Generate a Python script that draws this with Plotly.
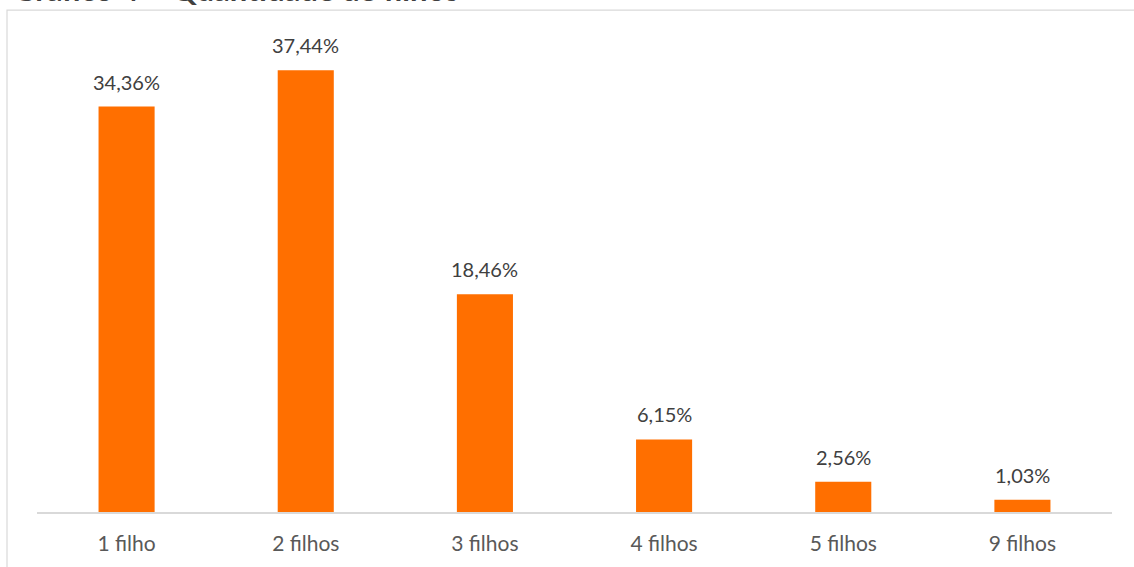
import plotly.graph_objects as go

categories = ["1 filho", "2 filhos", "3 filhos", "4 filhos", "5 filhos", "9 filhos"]
values = [34.36, 37.44, 18.46, 6.15, 2.56, 1.03]
title_text = "Gráfico 4 – Quantidade de filhos"

bar_color = "#FF6F00"
label_color = "#404040"
tick_color = "#595959"
line_color = "#D9D9D9"
font_family = "Lato, Carlito, Calibri, sans-serif"

fig = go.Figure()
fig.add_trace(go.Bar(
    x=categories, y=values,
    marker=dict(color=bar_color, line=dict(width=0)),
    width=0.313,
    hoverinfo="skip",
))

for c, v in zip(categories, values):
    fig.add_annotation(
        x=c, y=v, xref="x", yref="y",
        text=f"{v:.2f}".replace(".", ",") + "%",
        showarrow=False, yanchor="bottom", yshift=11,
        font=dict(family=font_family, size=20, color=label_color),
    )

# chart-area border (cropped)
fig.add_shape(type="rect", xref="paper", yref="paper",
              x0=-0.0279, x1=1.03, y0=-0.2, y1=1.0633,
              line=dict(color=line_color, width=1.2), fillcolor="rgba(0,0,0,0)",
              layer="below")

# partially visible title (cropped at top of image)
fig.add_annotation(
    xref="paper", yref="paper", x=-0.024, y=1.0632, xanchor="left", yanchor="bottom",
    text=f"<b>{title_text}</b>", showarrow=False,
    font=dict(family=font_family, size=31, color="#404040"),
)

fig.update_layout(
    width=1134, height=567,
    margin=dict(l=37, r=22, t=40, b=53),
    paper_bgcolor="white", plot_bgcolor="white",
    showlegend=False,
    xaxis=dict(
        showline=True, linecolor=line_color, linewidth=1.5,
        ticks="", showgrid=False, ticklabelstandoff=12,
        tickfont=dict(family=font_family, size=21, color=tick_color),
    ),
    yaxis=dict(range=[0, 40], visible=False, showgrid=False),
)

fig.write_html("out.html", config={"displayModeBar": False},
               post_script="document.body.style.margin='0';document.body.style.overflow='hidden';")
